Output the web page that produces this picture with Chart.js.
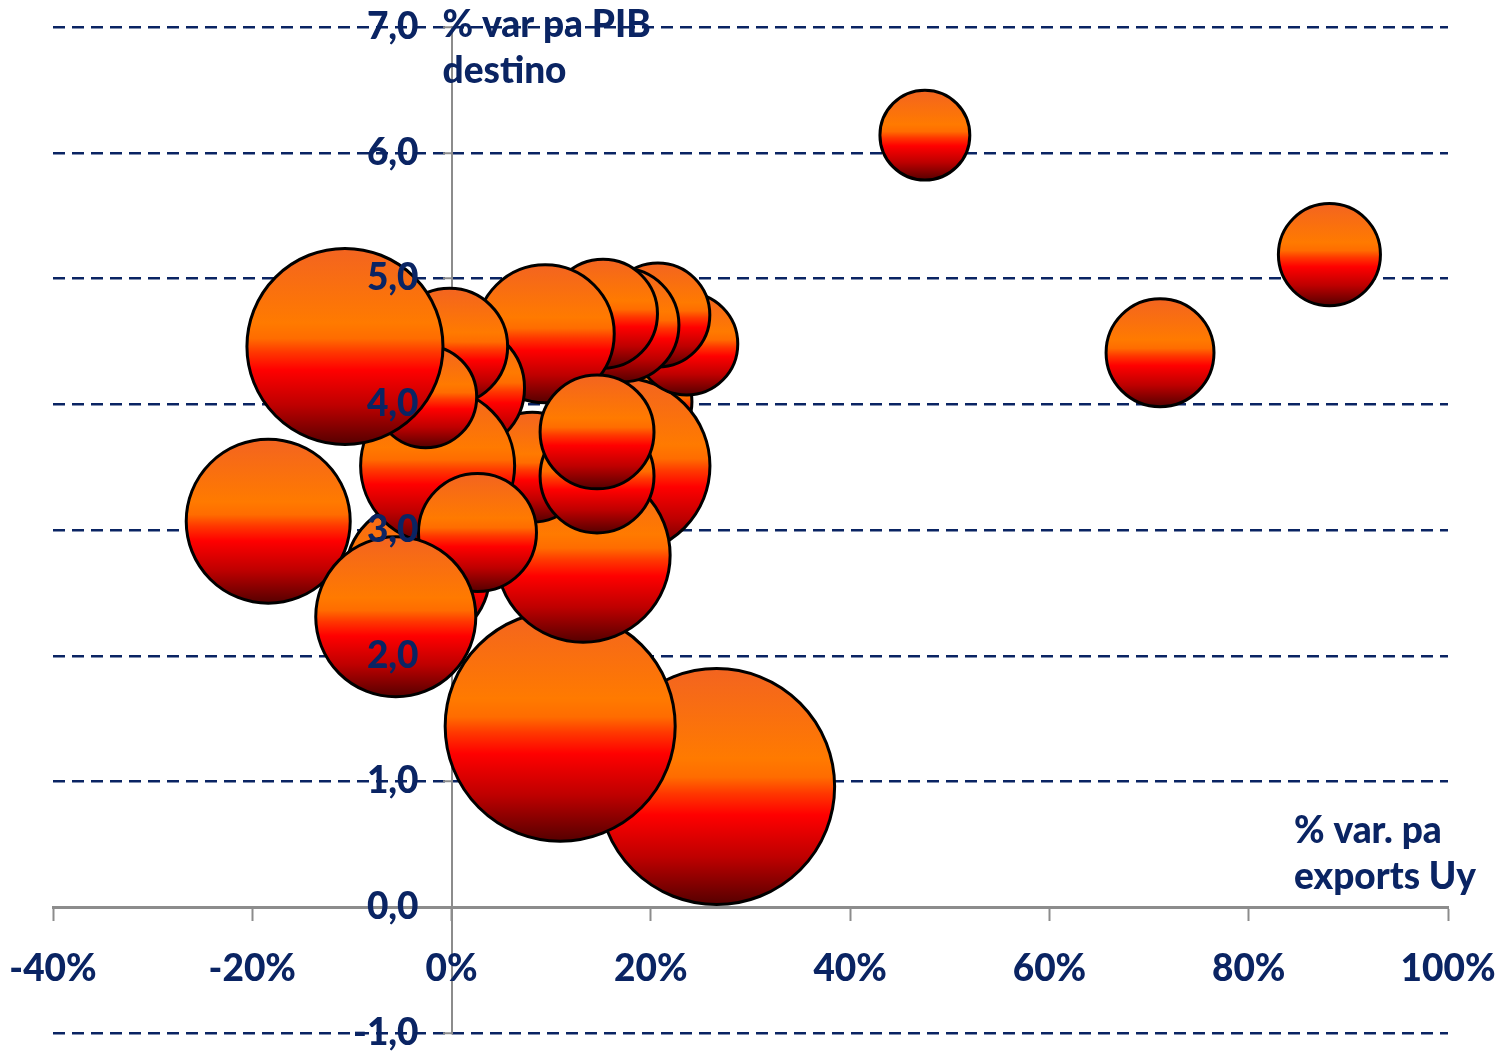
<!DOCTYPE html>
<html>
<head>
<meta charset="utf-8">
<script src="https://cdn.jsdelivr.net/npm/chart.js@4.4.1/dist/chart.umd.min.js"></script>
<style>
html,body{margin:0;padding:0;background:#ffffff;}
#wrap{width:1499px;height:1052px;}
</style>
</head>
<body>
<div id="wrap"><canvas id="c" width="1499" height="1052"></canvas></div>
<script>
// ---- data (x: % var. pa exports Uy, y: % var pa PIB destino, size: bubble size) ----
const xValues = [19.4, 26.6, 10.9, 17.1, 13.2, -18.4, -3.4, 23.6, 20.7, 17.1, 15.2, 9.4, 8.1, 1.0, -0.2, -1.4, -2.6, -10.7, 2.6, -5.6, 14.6, 14.6, 47.5, 88.1, 71.1];
const yValues = [4.02, 0.96, 1.44, 3.51, 2.80, 3.07, 2.65, 4.48, 4.71, 4.63, 4.72, 4.56, 3.50, 4.13, 4.46, 3.51, 4.06, 4.46, 2.98, 2.31, 3.43, 3.78, 6.14, 5.19, 4.41];
const sizes   = [15.9, 100, 95.0, 55.6, 54.4, 48.3, 37.2, 18.7, 19.4, 23.3, 21.3, 34.2, 21.7, 28.5, 24.2, 42.6, 18.7, 69.0, 25.0, 46.0, 23.3, 23.3, 14.5, 18.7, 20.9];
const xTickValues = [-40, -20, 0, 20, 40, 60, 80, 100];
const yTickValues = [-1, 0, 1, 2, 3, 4, 5, 6, 7];
const xTitleLines = ['% var. pa', 'exports Uy'];
const yTitleLines = ['% var pa PIB', 'destino'];

const NAVY = '#0a2463';
const FONT = 'Lato, "Open Sans", sans-serif';
const LABEL_FONT = '900 37px ' + FONT;

const points = xValues.map((x, i) => ({x: x, y: yValues[i], size: sizes[i]}));

function bubbleRadius(chart, size) {
  const w = chart.chartArea ? chart.chartArea.width : 1395;
  return 118 * Math.sqrt(size / 100) * (w / 1395);
}

function bubbleFill(ctx) {
  const chart = ctx.chart;
  if (!chart.chartArea || !ctx.raw) return '#ff6a00';
  const cy = chart.scales.y.getPixelForValue(ctx.raw.y);
  const r = bubbleRadius(chart, ctx.raw.size);
  const g = chart.ctx.createLinearGradient(0, cy - r, 0, cy + r);
  g.addColorStop(0.00, 'rgb(243,100,32)');
  g.addColorStop(0.38, 'rgb(255,122,0)');
  g.addColorStop(0.46, 'rgb(255,108,0)');
  g.addColorStop(0.53, 'rgb(255,55,0)');
  g.addColorStop(0.62, 'rgb(255,0,0)');
  g.addColorStop(0.80, 'rgb(190,0,0)');
  g.addColorStop(1.00, 'rgb(85,0,0)');
  return g;
}

// tick labels drawn over the bubbles, like the original
const tickLabelsPlugin = {
  id: 'tickLabels',
  afterDatasetsDraw(chart) {
    const c = chart.ctx;
    const xs = chart.scales.x, ys = chart.scales.y;
    const x0 = xs.getPixelForValue(0), y0 = ys.getPixelForValue(0);
    c.save();
    c.fillStyle = NAVY;
    c.font = LABEL_FONT;
    c.textBaseline = 'middle';
    c.textAlign = 'right';
    yTickValues.forEach(v => {
      c.fillText(v.toFixed(1).replace('.', ','), x0 - 33, ys.getPixelForValue(v));
    });
    c.textAlign = 'center';
    xTickValues.forEach(v => {
      c.fillText(v + '%', xs.getPixelForValue(v), y0 + 62);
    });
    c.restore();
  }
};

const titlesPlugin = {
  id: 'axisTitles',
  afterDraw(chart) {
    const c = chart.ctx;
    const xs = chart.scales.x, ys = chart.scales.y;
    c.save();
    c.fillStyle = NAVY;
    c.font = LABEL_FONT;
    c.textAlign = 'left';
    c.textBaseline = 'alphabetic';
    const yx = xs.getPixelForValue(0) - 9;
    const yb = chart.chartArea.top + 10;
    yTitleLines.forEach((t, i) => c.fillText(t, yx, yb + i * 46));
    const xx = chart.chartArea.right - 154;
    const xb = ys.getPixelForValue(0) - 18;
    xTitleLines.forEach((t, i) => c.fillText(t, xx, xb - (xTitleLines.length - 1 - i) * 46));
    c.restore();
  }
};

function zeroFit(s) {
  if (s.isHorizontal()) { s.height = 0; } else { s.width = 0; }
  s.paddingLeft = s.paddingRight = s.paddingTop = s.paddingBottom = 0;
}

new Chart(document.getElementById('c'), {
  type: 'bubble',
  data: {
    datasets: [{
      data: points,
      backgroundColor: bubbleFill,
      borderColor: '#000000',
      borderWidth: 3,
      radius: (ctx) => ctx.raw ? bubbleRadius(ctx.chart, ctx.raw.size) : 3,
      hoverRadius: 0,
      clip: false
    }]
  },
  options: {
    responsive: false,
    devicePixelRatio: 1,
    animation: false,
    events: [],
    layout: {autoPadding: false, padding: {left: 53, right: 51, top: 27, bottom: 19}},
    plugins: {legend: {display: false}, tooltip: {enabled: false}},
    scales: {
      x: {
        type: 'linear',
        position: {y: 0},
        min: -40, max: 100,
        afterBuildTicks: (s) => { s.ticks = xTickValues.map(v => ({value: v})); },
        afterFit: zeroFit,
        ticks: {display: false},
        grid: {drawOnChartArea: false, drawTicks: true, tickLength: 12, tickColor: '#8c8c8c', tickWidth: 2},
        border: {display: true, color: '#8c8c8c', width: 3}
      },
      y: {
        type: 'linear',
        position: {x: 0},
        min: -1, max: 7,
        afterBuildTicks: (s) => { s.ticks = yTickValues.map(v => ({value: v})); },
        afterFit: zeroFit,
        ticks: {display: false},
        grid: {
          color: (ctx) => (ctx.tick && ctx.tick.value === 0) ? 'rgba(0,0,0,0)' : NAVY,
          lineWidth: 2.5,
          borderDash: [12, 7],
          drawTicks: true,
          tickLength: 8,
          tickColor: '#8c8c8c',
          tickWidth: 2
        },
        border: {display: true, color: '#8c8c8c', width: 2, dash: [12, 7]}
      }
    }
  },
  plugins: [tickLabelsPlugin, titlesPlugin]
});
</script>
</body>
</html>
